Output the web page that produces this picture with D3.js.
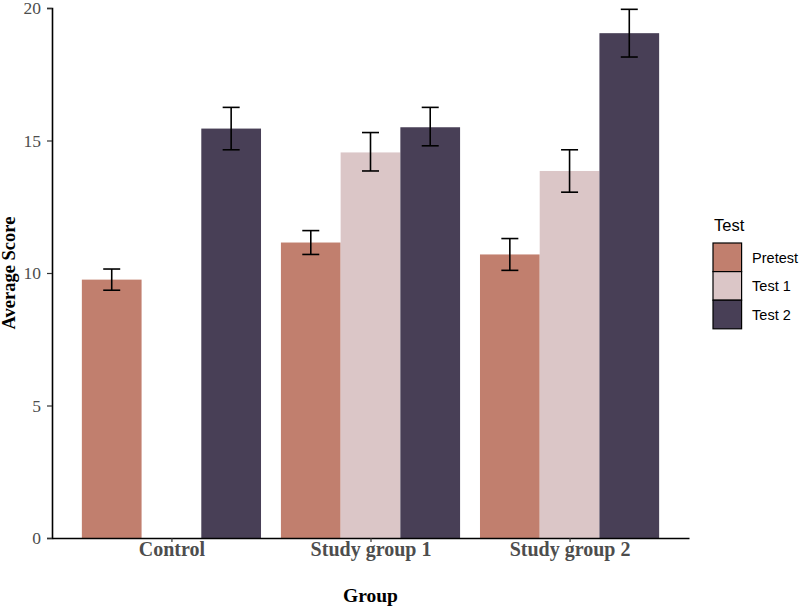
<!DOCTYPE html>
<html><head><meta charset="utf-8">
<script src="https://cdn.jsdelivr.net/npm/d3@7"></script>
<style>body{margin:0;background:#fff}</style>
</head><body>
<script>
const groups = ["Control", "Study group 1", "Study group 2"];
const tests = ["Pretest", "Test 1", "Test 2"];
const colors = ["#c17f6e", "#dbc6c7", "#483f56"];
// mean, lower, upper per group per test (null = missing)
const pretestMean = [9.75, 11.15, 10.7];
const pretestLow = [9.35, 10.7, 10.1];
const pretestHigh = [10.15, 11.6, 11.3];
const test1Mean = [null, 14.55, 13.85];
const test1Low = [null, 13.85, 13.05];
const test1High = [null, 15.3, 14.65];
const test2Mean = [15.45, 15.5, 19.05];
const test2Low = [14.65, 14.8, 18.15];
const test2High = [16.25, 16.25, 19.95];
const yTicks = [0, 5, 10, 15, 20];

const means = [pretestMean, test1Mean, test2Mean];
const lows = [pretestLow, test1Low, test2Low];
const highs = [pretestHigh, test1High, test2High];
const data = [];
groups.forEach((g, gi) => tests.forEach((t, ti) => {
  if (means[ti][gi] != null) data.push({g, gi, t, ti, m: means[ti][gi], lo: lows[ti][gi], hi: highs[ti][gi]});
}));

const W = 800, H = 610;
const L = 52, R = 689, T = 8, B = 538;
const svg = d3.select("body").append("svg").attr("width", W).attr("height", H);

// discrete x scale with 0.6 expansion on each side (ggplot style)
const x = d3.scalePoint().domain(groups).range([L, R]).padding(0.6);
const unit = x.step();
const xs = d3.scaleBand().domain(tests).range([-0.45 * unit, 0.45 * unit]);
const y = d3.scaleLinear().domain([0, 20]).range([B, T]);

// bars
svg.append("g").selectAll("rect").data(data).join("rect")
  .attr("x", d => x(d.g) + xs(d.t))
  .attr("width", xs.bandwidth())
  .attr("y", d => y(d.m))
  .attr("height", d => y(0) - y(d.m))
  .attr("fill", d => colors[d.ti]);

// error bars
const capW = 17;
const eg = svg.append("g").attr("stroke", "#000").attr("stroke-width", 1.6);
data.forEach(d => {
  const c = x(d.g) + xs(d.t) + xs.bandwidth() / 2;
  eg.append("line").attr("x1", c).attr("x2", c).attr("y1", y(d.lo)).attr("y2", y(d.hi));
  eg.append("line").attr("x1", c - capW / 2).attr("x2", c + capW / 2).attr("y1", y(d.lo)).attr("y2", y(d.lo));
  eg.append("line").attr("x1", c - capW / 2).attr("x2", c + capW / 2).attr("y1", y(d.hi)).attr("y2", y(d.hi));
});

// y axis
const ya = svg.append("g").attr("transform", `translate(${L},0)`)
  .call(d3.axisLeft(y).tickValues(yTicks).tickSize(5).tickPadding(6).tickFormat(d3.format("d")));
ya.select(".domain").attr("stroke", "#000").attr("stroke-width", 1.6);
ya.selectAll(".tick line").attr("stroke", "#333").attr("stroke-width", 1.2);
ya.selectAll(".tick text").attr("font-family", "Liberation Serif, serif").attr("font-size", 17.5).attr("fill", "#4d4d4d");

// x axis
const xa = svg.append("g").attr("transform", `translate(0,${B})`)
  .call(d3.axisBottom(x).tickSize(4).tickSizeOuter(0));
xa.select(".domain").attr("stroke", "#000").attr("stroke-width", 1.6);
xa.selectAll(".tick line").attr("stroke", "#333").attr("stroke-width", 1.2);
xa.selectAll(".tick text").attr("y", 3.5).attr("font-family", "Liberation Serif, serif").attr("font-size", 20)
  .attr("font-weight", "bold").attr("fill", "#4d4d4d");

// axis titles
svg.append("text").attr("x", (L + R) / 2).attr("y", 602).attr("text-anchor", "middle")
  .attr("font-family", "Liberation Serif, serif").attr("font-weight", "bold").attr("font-size", 19.5).text("Group");
svg.append("text").attr("transform", `translate(15,${(T + B) / 2}) rotate(-90)`).attr("text-anchor", "middle")
  .attr("font-family", "Liberation Serif, serif").attr("font-weight", "bold").attr("font-size", 18.5).text("Average Score");

// legend
const lg = svg.append("g").attr("transform", "translate(713,243)");
lg.append("text").attr("x", 1).attr("y", -12).attr("font-family", "Liberation Sans, Arial, sans-serif")
  .attr("font-size", 16.5).text("Test");
const ks = 28.6;
tests.forEach((t, i) => {
  lg.append("rect").attr("x", 0).attr("y", i * ks).attr("width", ks).attr("height", ks)
    .attr("fill", colors[i]).attr("stroke", "#000").attr("stroke-width", 1.2);
  lg.append("text").attr("x", ks + 10.5).attr("y", i * ks + ks / 2 + 5.5)
    .attr("font-family", "Liberation Sans, Arial, sans-serif").attr("font-size", 14.5).text(t);
});
</script>
</body></html>
